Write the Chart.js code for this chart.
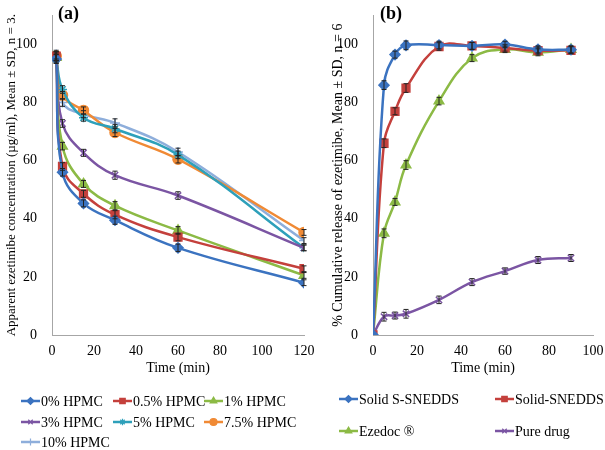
<!DOCTYPE html>
<html>
<head>
<meta charset="utf-8">
<script src="https://cdn.jsdelivr.net/npm/chart.js@4.4.1/dist/chart.umd.min.js"></script>
<style>
    html, body { margin: 0; padding: 0; background: #fff; }
    #wrapA { position: absolute; left: 0; top: 0; width: 318px; height: 450px; }
    #wrapB { position: absolute; left: 318px; top: 0; width: 287px; height: 450px; }
</style>
</head>
<body>
<div id="wrapA"><canvas id="chartA"></canvas></div>
<div id="wrapB"><canvas id="chartB"></canvas></div>
<script>
// panel (a) - concentration vs time
var timeA = [2, 5, 15, 30, 60, 120];
var hpmc0 = [95, 56, 45.3, 39.5, 30, 18];
var hpmc05 = [96, 58, 48.6, 41.4, 33.7, 22.8];
var hpmc1 = [95.5, 65, 52, 44.5, 36, 20.5];
var hpmc3 = [96, 72.8, 62.7, 55, 48, 30];
var hpmc5 = [95, 84.5, 74.8, 71, 62, 30];
var hpmc75 = [96, 82.5, 77.3, 69.7, 60.5, 35.3];
var hpmc10 = [96.5, 80, 76, 73, 63, 32.5];
var sdA = [1.5, 1.3, 1.2, 1.4, 1.3, 1.0];

// panel (b) - cumulative release
var timeB = [0, 5, 10, 15, 30, 45, 60, 75, 90];
var solidSSnedds = [0, 86, 96.5, 99.7, 99.8, 99.5, 100, 98.3, 98.2];
var solidSnedds = [0, 66, 77, 85, 99.3, 99.5, 98.8, 97.9, 98];
var ezedoc = [0, 35, 45.8, 58.5, 80.5, 95.3, 98.3, 97.3, 98.3];
var pureDrug = [0, 6.3, 6.7, 7.3, 12.1, 18.2, 22, 25.8, 26.5];
var sdB = [0, 1.5, 1.2, 1.5, 1.3, 1.2, 1.1, 1.2, 1.2];

var yTicks = [0, 20, 40, 60, 80, 100];

var serif = '"Liberation Serif", "Times New Roman", Times, serif';

function pts(xs, ys) {
    return xs.map(function (x, i) { return {x: x, y: ys[i]}; });
}

function series(label, xs, ys, color, style, r) {
    return {
        label: label,
        data: pts(xs, ys),
        borderColor: color,
        backgroundColor: color,
        pointStyle: style,
        pointRadius: r,
        pointBorderWidth: 1.5,
        borderWidth: 2.5,
        tension: 0.4,
        showLine: true,
        fill: false
    };
}

// error bars, panel label and legend drawn on the canvas
var extras = {
    id: 'extras',
    afterDatasetsDraw: function (chart, args, opts) {
        var ctx = chart.ctx, xs = chart.scales.x, ys = chart.scales.y;
        ctx.save();
        ctx.strokeStyle = '#222';
        ctx.lineWidth = 1;
        chart.data.datasets.forEach(function (ds) {
            ds.data.forEach(function (p, i) {
                var e = opts.sd[i];
                if (!e) return;
                var px = xs.getPixelForValue(p.x);
                var y1 = ys.getPixelForValue(p.y + e), y2 = ys.getPixelForValue(p.y - e);
                ctx.beginPath();
                ctx.moveTo(px, y1); ctx.lineTo(px, y2);
                ctx.moveTo(px - 2.5, y1); ctx.lineTo(px + 2.5, y1);
                ctx.moveTo(px - 2.5, y2); ctx.lineTo(px + 2.5, y2);
                ctx.stroke();
            });
        });
        ctx.restore();
    },
    afterDraw: function (chart, args, opts) {
        var ctx = chart.ctx;
        ctx.save();
        ctx.fillStyle = '#000';
        ctx.font = 'bold 18px ' + serif;
        ctx.textBaseline = 'middle';
        ctx.fillText(opts.tag, chart.chartArea.left + opts.tagDx, 14);

        ctx.font = '14px ' + serif;
        chart.data.datasets.forEach(function (ds, i) {
            var p = opts.legend[i];
            ctx.strokeStyle = ds.borderColor;
            ctx.lineWidth = 2.5;
            ctx.beginPath();
            ctx.moveTo(p[0], p[1]);
            ctx.lineTo(p[0] + 19, p[1]);
            ctx.stroke();
            ctx.fillStyle = ds.backgroundColor;
            ctx.lineWidth = 1.2;
            Chart.helpers.drawPoint(ctx, {
                pointStyle: ds.pointStyle,
                radius: ds.pointRadius * 0.7,
                borderWidth: 1.2,
                rotation: 0
            }, p[0] + 9.5, p[1]);
            ctx.fillStyle = '#000';
            ctx.fillText(ds.label, p[0] + 20, p[1] + 1);
        });
        ctx.restore();
    }
};

function axes(xMax, yWidth, yTitle, yTitlePad, yTitleSize) {
    var font = {family: serif, size: 14};
    return {
        x: {
            type: 'linear',
            min: 0,
            max: xMax,
            grid: {display: false},
            border: {display: true, color: '#a6a6a6', width: 1},
            ticks: {stepSize: 20, color: '#000', font: font, padding: 0, maxRotation: 0},
            title: {display: true, text: 'Time (min)', color: '#000', font: font, padding: {top: 2, bottom: 5}},
            afterFit: function (s) { s.height = 47; }
        },
        y: {
            min: 0,
            max: 110,
            grid: {display: false},
            border: {display: true, color: '#a6a6a6', width: 1},
            ticks: {color: '#000', font: font, padding: 7},
            afterBuildTicks: function (s) {
                s.ticks = yTicks.map(function (v) { return {value: v}; });
            },
            title: {display: true, text: yTitle, color: '#000', font: {family: serif, size: yTitleSize}, padding: {top: yTitlePad, bottom: 0}},
            afterFit: function (s) { s.width = yWidth; }
        }
    };
}

Chart.defaults.font.family = serif;

new Chart(document.getElementById('chartA'), {
    type: 'scatter',
    data: {
        datasets: [
            series('0% HPMC', timeA, hpmc0, '#3b73c0', 'rectRot', 5),
            series('0.5% HPMC', timeA, hpmc05, '#c4403c', 'rect', 5.5),
            series('1% HPMC', timeA, hpmc1, '#8cba45', 'triangle', 5.5),
            series('3% HPMC', timeA, hpmc3, '#7b55a3', 'crossRot', 4.5),
            series('5% HPMC', timeA, hpmc5, '#2ea0ba', 'star', 4.5),
            series('7.5% HPMC', timeA, hpmc75, '#f08a35', 'circle', 5),
            series('10% HPMC', timeA, hpmc10, '#8eaedb', 'cross', 5)
        ]
    },
    options: {
        responsive: true,
        maintainAspectRatio: false,
        animation: false,
        layout: {padding: {left: 0, right: 14, top: 5, bottom: 68}},
        plugins: {
            legend: {display: false},
            tooltip: {enabled: false},
            extras: {
                sd: sdA,
                tag: '(a)',
                tagDx: 6,
                legend: [[21, 401], [113, 401], [204, 401], [21, 422], [113, 422], [204, 422], [21, 442]]
            }
        },
        scales: axes(120, 52, 'Apparent ezetimibe concentration (\u00b5g/ml), Mean \u00b1 SD, n = 3.', 4, 13)
    },
    plugins: [extras]
});

new Chart(document.getElementById('chartB'), {
    type: 'scatter',
    data: {
        datasets: [
            series('Solid S-SNEDDS', timeB, solidSSnedds, '#3b73c0', 'rectRot', 5),
            series('Solid-SNEDDS', timeB, solidSnedds, '#c4403c', 'rect', 5.5),
            series('Ezedoc \u00ae', timeB, ezedoc, '#8cba45', 'triangle', 5.5),
            series('Pure drug', timeB, pureDrug, '#7b55a3', 'crossRot', 4.5)
        ]
    },
    options: {
        responsive: true,
        maintainAspectRatio: false,
        animation: false,
        layout: {padding: {left: 0, right: 12, top: 5, bottom: 68}},
        plugins: {
            legend: {display: false},
            tooltip: {enabled: false},
            extras: {
                sd: sdB,
                tag: '(b)',
                tagDx: 7,
                legend: [[21, 399], [177, 399], [21, 431], [177, 431]]
            }
        },
        scales: axes(100, 55, '% Cumulative release of ezetimibe, Mean \u00b1 SD, n = 6', 12, 14)
    },
    plugins: [extras]
});
</script>
</body>
</html>
